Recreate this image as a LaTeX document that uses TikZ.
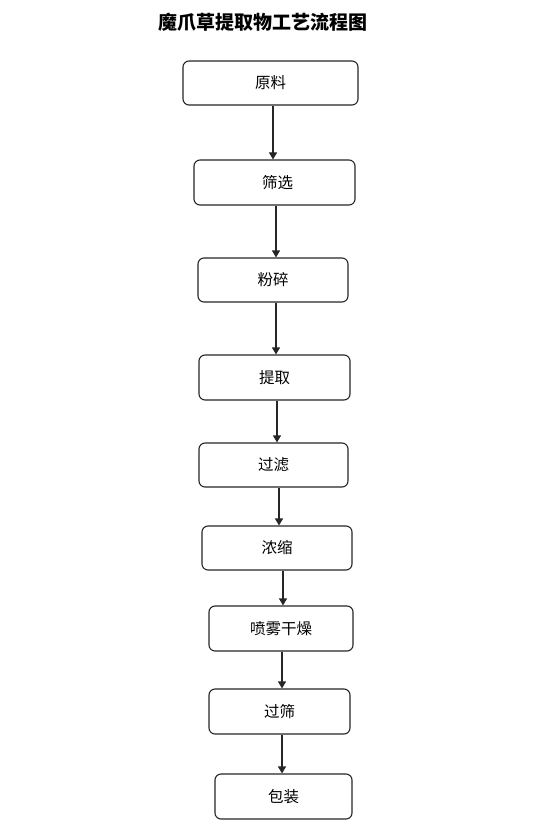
\documentclass[tikz,border=0pt]{standalone}
\usepackage{fontspec}
\newfontfamily\cjk{Noto Sans CJK SC}
\usetikzlibrary{arrows.meta}
\begin{document}
\begin{tikzpicture}[x=1pt,y=-1pt,
  stepbox/.style={draw=black!85,line width=1.1pt,rounded corners=6pt,inner sep=0pt,
    font=\cjk\fontsize{15.5}{17}\selectfont},
  arr/.style={draw=black!85,line width=1.1pt,-{Triangle[width=8pt,length=7pt]}}]
\useasboundingbox[fill=white] (0,0) rectangle (556,837);
\node[font=\cjk\bfseries\fontsize{19}{22}\selectfont,inner sep=0pt] (title) at (263,22)
  {魔爪草提取物工艺流程图};
\node[stepbox,minimum width=175pt,minimum height=44pt] (n1) at (270.5,83) {原料};
\node[stepbox,minimum width=161pt,minimum height=45pt] (n2) at (274.5,182.5) {\hspace{6pt}筛选};
\node[stepbox,minimum width=150pt,minimum height=44pt] (n3) at (273,280) {粉碎};
\node[stepbox,minimum width=151pt,minimum height=45pt] (n4) at (274.5,377.5) {提取};
\node[stepbox,minimum width=149pt,minimum height=44pt] (n5) at (273.5,465) {过滤};
\node[stepbox,minimum width=150pt,minimum height=44pt] (n6) at (277,548) {浓缩};
\node[stepbox,minimum width=144pt,minimum height=45pt] (n7) at (281,628.5) {喷雾干燥};
\node[stepbox,minimum width=141pt,minimum height=45pt] (n8) at (279.5,711.5) {过筛};
\node[stepbox,minimum width=137pt,minimum height=45pt] (n9) at (283.5,796.5) {包装};
\coordinate (c1) at (273,0);
\coordinate (c2) at (276,0);
\coordinate (c3) at (276,0);
\coordinate (c4) at (277,0);
\coordinate (c5) at (279,0);
\coordinate (c6) at (283,0);
\coordinate (c7) at (282,0);
\coordinate (c8) at (282,0);
\draw[arr] (n1.south -| c1) -- (n2.north -| c1);
\draw[arr] (n2.south -| c2) -- (n3.north -| c2);
\draw[arr] (n3.south -| c3) -- (n4.north -| c3);
\draw[arr] (n4.south -| c4) -- (n5.north -| c4);
\draw[arr] (n5.south -| c5) -- (n6.north -| c5);
\draw[arr] (n6.south -| c6) -- (n7.north -| c6);
\draw[arr] (n7.south -| c7) -- (n8.north -| c7);
\draw[arr] (n8.south -| c8) -- (n9.north -| c8);
\end{tikzpicture}
\end{document}
